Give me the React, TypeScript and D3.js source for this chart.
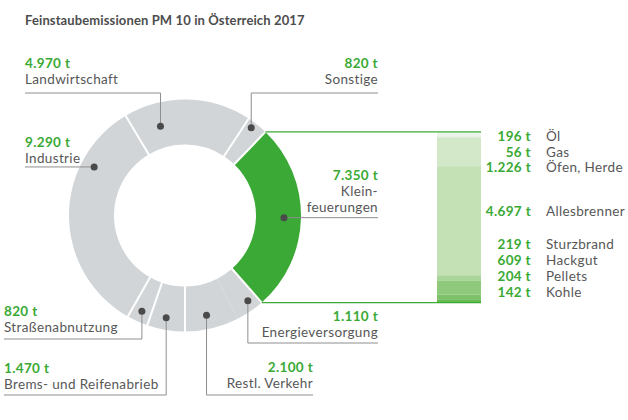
import React from "react";
import * as d3 from "d3";

const sectors = ["Brems- und Reifenabrieb", "Straßenabnutzung", "Industrie", "Landwirtschaft", "Sonstige", "Kleinfeuerungen", "Energieversorgung", "Restl. Verkehr"];
const sectorValues = [1470, 820, 9290, 4970, 820, 7350, 1110, 2100];
const sectorValueLabels = ["1.470 t", "820 t", "9.290 t", "4.970 t", "820 t", "7.350 t", "1.110 t", "2.100 t"];

const subCategories = ["Öl", "Gas", "Öfen, Herde", "Allesbrenner", "Sturzbrand", "Hackgut", "Pellets", "Kohle"];
const subValues = [196, 56, 1226, 4697, 219, 609, 204, 142];
const subValueLabels = ["196 t", "56 t", "1.226 t", "4.697 t", "219 t", "609 t", "204 t", "142 t"];

const title = "Feinstaubemissionen PM 10 in Österreich 2017";

// layout (not data)
const W = 628, H = 420;
const cx = 185, cy = 215.5, rOuter = 116, rInner = 71;
const GRAY = "#d1d5d8", GREEN = "#3ba935", TEXT = "#575757", VAL = "#3aaa35", LINE = "#8e8e8e", DOT = "#4a4a4a";
const subColors = ["#edf4e9", "#dcecd3", "#d3e7c9", "#c4e0b5", "#a9d49a", "#8fc97c", "#7dc168", "#68b853"];
const FONT = "Lato, 'Open Sans', sans-serif";
const FS = 13.5;
const LS = 0.35;

// label/leader layout per sector: dot (polar: fraction inside segment, radius), leader elbow, text anchor
type Lay = { frac: number; r: number; elbowY: number | null; endX: number; tx: number; ty: number; anchor: "start" | "end"; lines?: string[] };
const layout: Lay[] = [
  { frac: 0.55, r: 104, elbowY: 395, endX: 4, tx: 4, ty: 373, anchor: "start" },
  { frac: 0.5, r: 105, elbowY: 339, endX: 4, tx: 4, ty: 316, anchor: "start" },
  { frac: 0.74, r: 103, elbowY: null, endX: 25, tx: 25, ty: 147, anchor: "start" },
  { frac: 0.24, r: 92.5, elbowY: 93, endX: 25, tx: 25, ty: 68, anchor: "start" },
  { frac: 0.35, r: 110, elbowY: 93, endX: 378, tx: 378, ty: 68, anchor: "end" },
  { frac: 0.5, r: 99, elbowY: null, endX: 378, tx: 378, ty: 180, anchor: "end", lines: ["Klein-", "feuerungen"] },
  { frac: 0.35, r: 106, elbowY: 343, endX: 378, tx: 378, ty: 321, anchor: "end" },
  { frac: 0.55, r: 102, elbowY: 395, endX: 313, tx: 313, ty: 372, anchor: "end" },
];

export default function App() {
  const pie = d3.pie<number>().sort(null).startAngle(-Math.PI).endAngle(Math.PI);
  const arcs = pie(sectorValues);
  const arcGen = d3.arc<d3.PieArcDatum<number>>().innerRadius(rInner).outerRadius(rOuter);
  const kIdx = sectors.indexOf("Kleinfeuerungen");
  const kArc = arcs[kIdx];
  const kTop: [number, number] = [cx + rOuter * Math.sin(kArc.startAngle), cy - rOuter * Math.cos(kArc.startAngle)];
  const kBot: [number, number] = [cx + rOuter * Math.sin(kArc.endAngle), cy - rOuter * Math.cos(kArc.endAngle)];

  const barX0 = 437, barX1 = 481;
  const barTop = kTop[1], barBot = kBot[1];
  const total = d3.sum(subValues);
  const y = d3.scaleLinear().domain([0, total]).range([barTop, barBot]);
  const cum = d3.cumsum(subValues);
  const subLabelY = [141, 157, 172, 216, 249, 265, 281, 297];

  const line = d3.line();
  return (
    <svg width={W} height={H} style={{ position: "absolute", left: 0, top: 0, background: "#fff" }} fontFamily={FONT}>
      <text x={25} y={25} fontSize={13} fontWeight={700} fill="#4d4d4d" letterSpacing={0.12}>{title}</text>
      <g transform={`translate(${cx},${cy})`}>
        {arcs.map((a, i) => (
          <path key={i} d={arcGen(a) || ""} fill={i === kIdx ? GREEN : GRAY} />
        ))}
        {arcs.map((a, i) => {
          if (i === 6 || i === 7) return null;
          const ang = a.endAngle;
          return (
            <line key={"s" + i}
              x1={(rInner - 1) * Math.sin(ang)} y1={-(rInner - 1) * Math.cos(ang)}
              x2={(rOuter + 1) * Math.sin(ang)} y2={-(rOuter + 1) * Math.cos(ang)}
              stroke="#fff" strokeWidth={2} />
          );
        })}
        <line x1={0} y1={rInner - 1} x2={0} y2={rOuter + 1} stroke="#fff" strokeWidth={2} />
      </g>
      {layout.map((l, i) => {
        const a = arcs[i];
        const ang = a.startAngle + l.frac * (a.endAngle - a.startAngle);
        const dx = cx + l.r * Math.sin(ang), dy = cy - l.r * Math.cos(ang);
        const pts: [number, number][] = l.elbowY === null
          ? [[dx, dy], [l.endX, dy]]
          : [[dx, dy], [dx, l.elbowY], [l.endX, l.elbowY]];
        return (
          <g key={"l" + i}>
            <path d={line(pts) || ""} fill="none" stroke={LINE} strokeWidth={1} />
            <circle cx={dx} cy={dy} r={3.5} fill={DOT} />
            <text x={l.tx} y={l.ty} textAnchor={l.anchor} fontSize={FS} fontWeight={700} fill={VAL} letterSpacing={LS}>{sectorValueLabels[i]}</text>
            {(l.lines || [sectors[i]]).map((s, j) => (
              <text key={j} x={l.tx} y={l.ty + 16 + j * 16} textAnchor={l.anchor} fontSize={FS} fill={TEXT} letterSpacing={LS}>{s}</text>
            ))}
          </g>
        );
      })}
      {subValues.map((v, i) => (
        <rect key={"b" + i} x={barX0} width={barX1 - barX0} y={y(cum[i] - v)} height={y(cum[i]) - y(cum[i] - v)} fill={subColors[i]} />
      ))}
      <line x1={kTop[0]} y1={barTop} x2={barX1} y2={barTop} stroke={GREEN} strokeWidth={1.2} />
      <line x1={kBot[0]} y1={barBot} x2={barX1} y2={barBot} stroke={GREEN} strokeWidth={1.2} />
      {subCategories.map((c, i) => (
        <g key={"c" + i}>
          <text x={531} y={subLabelY[i]} textAnchor="end" fontSize={FS} fontWeight={700} fill={VAL} letterSpacing={LS}>{subValueLabels[i]}</text>
          <text x={546} y={subLabelY[i]} fontSize={FS} fill={TEXT} letterSpacing={LS}>{c}</text>
        </g>
      ))}
    </svg>
  );
}
